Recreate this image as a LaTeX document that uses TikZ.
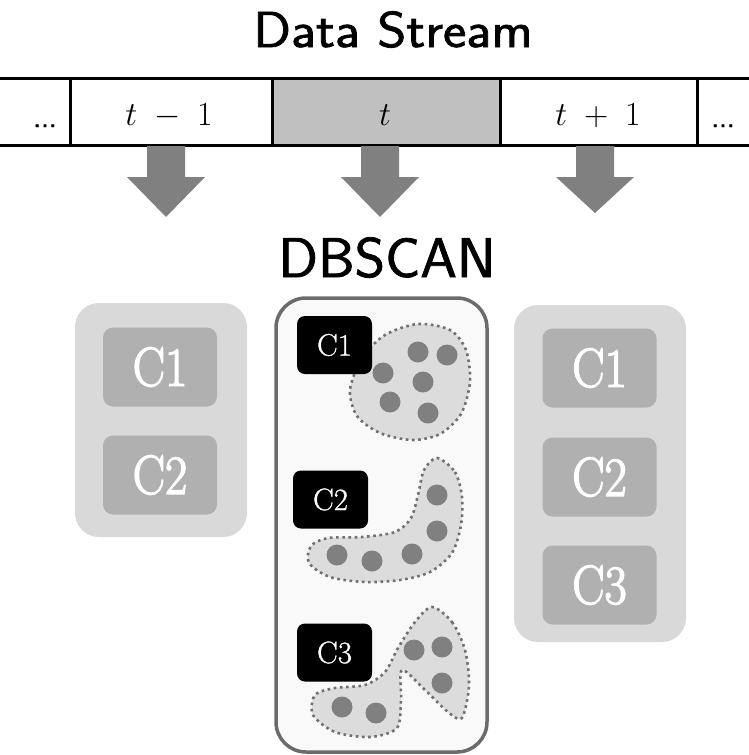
\documentclass[tikz,border=0pt]{standalone}
\usepackage{fontspec}
\newfontfamily\headfont{Latin Modern Sans}[FakeBold=1.4]
\newfontfamily\tagfont{Latin Modern Roman}[FakeBold=1.0]
\newfontfamily\labfont{Latin Modern Roman}[FakeBold=2.6]
\definecolor{boxlight}{HTML}{D9D9D9}
\definecolor{boxmid}{HTML}{B0B0B0}
\definecolor{arrowgray}{HTML}{808080}
\definecolor{cellgray}{HTML}{C0C0C0}
\definecolor{blobfill}{HTML}{DCDCDC}
\definecolor{blobedge}{HTML}{707070}
\definecolor{dotgray}{HTML}{808080}
\definecolor{frame}{HTML}{6B6B6B}
\definecolor{panel}{HTML}{F9F9F9}
\begin{document}
\begin{tikzpicture}[x=1pt,y=-1pt,
  heading/.style={font=\headfont\fontsize{50.5}{56}\selectfont, anchor=base, inner sep=0pt, xscale=1.1},
  celltext/.style={font=\LARGE, scale=1.95, anchor=base, inner sep=0pt},
  ellip/.style={anchor=base, inner sep=0, font=\headfont\fontsize{30}{34}\selectfont},
  sidebox/.style={fill=boxlight, rounded corners=24, minimum width=172, minimum height=234, inner sep=0pt},
  clbox/.style={fill=boxmid, rounded corners=10, minimum width=114, minimum height=79, inner sep=0pt},
  cltext/.style={text=white, font=\labfont\fontsize{55}{60}\selectfont, xscale=0.88, inner sep=0pt},
  tagbox/.style={fill=black, rounded corners=8, minimum width=75, minimum height=58, inner sep=0pt,
    text=white, font=\tagfont\fontsize{31}{36}\selectfont},
  blob/.style={fill=blobfill, draw=blobedge, line width=2.6, dash pattern=on 2.6 off 3.6},
  pt/.style={fill=dotgray},
  blockarrow/.style={fill=arrowgray},
  rule/.style={line width=3, draw=black}]
\useasboundingbox (0,0) rectangle (749,755);

% title
\node[heading] (title) at (393,47) {Data Stream};

% stream cells
\fill[cellgray] (272,78) rectangle (500,145);
\node[minimum width=202, minimum height=67, inner sep=0] (cprev) at (171,111.5) {};
\node[minimum width=228, minimum height=67, inner sep=0] (ccur) at (386,111.5) {};
\node[minimum width=197, minimum height=67, inner sep=0] (cnext) at (598.5,111.5) {};
\draw[rule] (0,78) -- (749,78);
\draw[rule] (0,145) -- (749,145);
\foreach \xx in {70,272,500,697} \draw[rule] (\xx,78) -- (\xx,145);
\node[ellip] (dl) at (45,127) {...};
\node[celltext] (lprev) at (169,125) {$t\;-\;1$};
\node[celltext] (lcur) at (385,125) {$t$};
\node[celltext] (lnext) at (598,125) {$t\;+\;1$};
\node[ellip] (dr) at (723,127) {...};

% block arrows below each cell
\foreach \c/\cx/\tip in {cprev/166/217, ccur/380/217, cnext/595/213}{
  \fill[blockarrow] (\cx-19,146) -- (\cx+19,146) -- (\cx+19,177) -- (\cx+39,177)
    -- (\cx,\tip) -- (\cx-39,177) -- (\cx-19,177) -- cycle;
}

% DBSCAN label
\node[heading, font=\headfont\fontsize{56}{60}\selectfont, xscale=0.95] (algo) at (387,277) {DBSCAN};

% clusters at t-1
\node[sidebox] (left) at (161,420) {};
\node[clbox] (l1) at (160,367) {};
\node[cltext] at (l1) {C1};
\node[clbox] (l2) at (160,475) {};
\node[cltext] at (l2) {C2};

% clusters at t+1
\node[sidebox, minimum height=337] (right) at (600,473.5) {};
\node[clbox] (r1) at (599.5,368) {};
\node[cltext] at (r1) {C1};
\node[clbox] (r2) at (599.5,477) {};
\node[cltext] at (r2) {C2};
\node[clbox] (r3) at (599.5,585) {};
\node[cltext] at (r3) {C3};

% clusters at t with their points
\node[draw=frame, fill=panel, line width=3.5, rounded corners=30, minimum width=211, minimum height=454, inner sep=0] (mid) at (381.5,525) {};

\draw[blob] plot[smooth cycle] coordinates {(350,390) (362,358) (385,335) (418,324) (450,330) (466,350) (470,382) (461,414) (440,434) (412,440) (380,433) (357,416)};
\foreach \px/\py in {418/352, 447/355, 383/373, 423/382, 390/402, 428/413} \fill[pt] (\px,\py) circle (10.5);

\draw[blob] plot[smooth cycle] coordinates {(437,458) (455,472) (462,497) (461,525) (452,553) (430,572) (400,580) (365,582) (330,577) (309,563) (311,546) (328,538) (362,537) (395,532) (411,518) (418,495) (424,470)};
\foreach \px/\py in {437/495, 437/531, 412/554, 372/561, 337/555} \fill[pt] (\px,\py) circle (10.5);

\draw[blob] plot[smooth cycle] coordinates {(432,607) (452,622) (465,650) (469,685) (462,718) (448,712) (425,690) (402,670) (401,700) (397,728) (370,737) (335,732) (313,715) (315,695) (335,688) (365,685) (385,672) (398,648) (415,622)};
\foreach \px/\py in {414/650, 442/647, 442/683, 342/707, 376/713} \fill[pt] (\px,\py) circle (10.5);

\node[tagbox] (t1) at (334.5,345) {C1};
\node[tagbox] (t2) at (330.5,499.5) {C2};
\node[tagbox] (t3) at (334.5,652.5) {C3};
\end{tikzpicture}
\end{document}
